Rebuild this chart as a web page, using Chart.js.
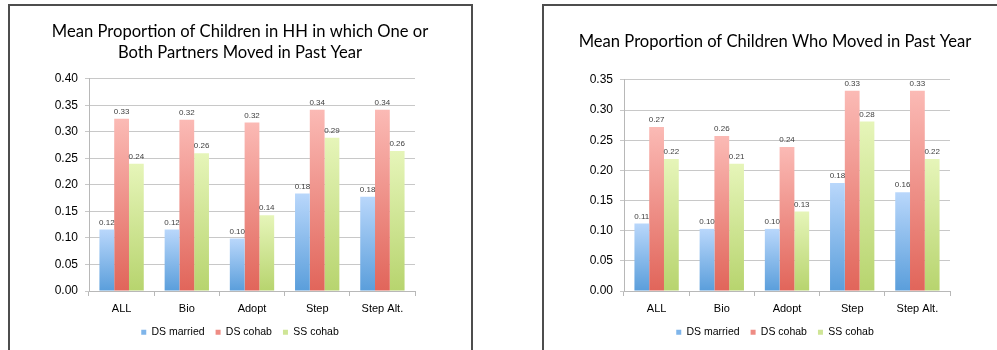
<!DOCTYPE html>
<html><head><meta charset="utf-8">
<script src="https://cdn.jsdelivr.net/npm/chart.js@4"></script>
<style>
html,body{margin:0;padding:0;background:#fff;overflow:hidden;width:997px;height:350px;}
.frame{position:absolute;top:4px;height:400px;border:2px solid #4d4d4d;box-sizing:border-box;}
canvas{position:absolute;}
</style></head><body>
<div class="frame" style="left:8px;width:465px;"></div>
<div class="frame" style="left:542px;width:520px;"></div>
<canvas id="c1" width="460" height="344" style="left:10px;top:6px;width:460px;height:344px;"></canvas>
<canvas id="c2" width="460" height="344" style="left:545px;top:6px;width:460px;height:344px;"></canvas>
<script>
const categories = ['ALL', 'Bio', 'Adopt', 'Step', 'Step Alt.'];
const seriesNames = ['DS married', 'DS cohab', 'SS cohab'];

const title1 = ['Mean Proportion of Children in HH in which One or', 'Both Partners Moved in Past Year'];
const hhDSmarried = [0.116, 0.116, 0.099, 0.184, 0.178];
const hhDScohab   = [0.325, 0.323, 0.318, 0.342, 0.342];
const hhSScohab   = [0.240, 0.260, 0.143, 0.289, 0.264];
const yMax1 = 0.40;

const title2 = 'Mean Proportion of Children Who Moved in Past Year';
const chDSmarried = [0.112, 0.103, 0.103, 0.179, 0.164];
const chDScohab   = [0.272, 0.257, 0.239, 0.332, 0.332];
const chSScohab   = [0.219, 0.211, 0.132, 0.281, 0.219];
const yMax2 = 0.35;

const yStep = 0.05;

const palette = [
  {top:'#b9d7fb', bottom:'#5a9edb', mid:'#7fb5ea'},
  {top:'#fbbab5', bottom:'#e1655a', mid:'#ee8c84'},
  {top:'#e6f5b9', bottom:'#b7d46e', mid:'#cfe596'}
];

function gradFill(p) {
  return (ctx) => {
    const chart = ctx.chart;
    if (ctx.type !== 'data' || !chart.chartArea || !chart.scales.y) return p.mid;
    const ys = chart.scales.y;
    const v = ctx.raw;
    const y0 = ys.getPixelForValue(v), y1 = ys.getPixelForValue(0);
    if (!isFinite(y0) || !isFinite(y1) || y0 === y1) return p.mid;
    const g = chart.ctx.createLinearGradient(0, y0, 0, y1);
    g.addColorStop(0, p.top);
    g.addColorStop(1, p.bottom);
    return g;
  };
}

const valueLabels = {
  id: 'valueLabels',
  afterDatasetsDraw(chart) {
    const ctx = chart.ctx;
    ctx.save();
    ctx.font = '8px "Liberation Sans", Arial, sans-serif';
    ctx.fillStyle = '#404040';
    ctx.textAlign = 'center';
    ctx.textBaseline = 'bottom';
    chart.data.datasets.forEach((ds, i) => {
      const meta = chart.getDatasetMeta(i);
      meta.data.forEach((el, j) => {
        ctx.fillText(ds.data[j].toFixed(2), el.x, el.y - 3);
      });
    });
    ctx.restore();
  }
};

function makeChart(id, title, titleSize, titleLH, titlePad, series, yMax) {
  const datasets = series.map((d, i) => ({
    label: seriesNames[i],
    data: d,
    backgroundColor: gradFill(palette[i]),
    borderWidth: 0,
    barPercentage: 1.0,
    categoryPercentage: 0.68
  }));
  return new Chart(document.getElementById(id), {
    type: 'bar',
    data: {labels: categories, datasets},
    plugins: [valueLabels],
    options: {
      responsive: false,
      animation: false,
      devicePixelRatio: 1,
      layout: {padding: {left: 0, right: 0, top: 0, bottom: 2.5}},
      plugins: {
        title: {
          display: true,
          text: title,
          color: '#000',
          font: {family: 'Lato, "Liberation Sans", sans-serif', size: titleSize, weight: 'normal', lineHeight: titleLH},
          padding: titlePad
        },
        legend: {
          position: 'bottom',
          labels: {
            boxWidth: 5, boxHeight: 5, padding: 11,
            color: '#000',
            font: {family: '"Liberation Sans", Arial, sans-serif', size: 10.5},
            generateLabels: (chart) => chart.data.datasets.map((ds, i) => ({
              text: ds.label, fillStyle: palette[i].mid, strokeStyle: palette[i].mid,
              lineWidth: 0, hidden: false, datasetIndex: i
            }))
          }
        },
        tooltip: {enabled: false}
      },
      scales: {
        x: {
          grid: {display: true, drawOnChartArea: false, drawTicks: true, tickLength: 5, offset: true, color: '#b8b8b8'},
          border: {display: true, color: '#b8b8b8'},
          ticks: {color: '#000', padding: 6, font: {family: '"Liberation Sans", Arial, sans-serif', size: 11}},
          afterFit: (s) => { s.height = 25; }
        },
        y: {
          min: 0, max: yMax,
          grid: {color: '#c8c8c8', tickLength: 4, drawTicks: true},
          border: {display: true, color: '#b8b8b8'},
          ticks: {
            stepSize: yStep, color: '#000', padding: 7,
            font: {family: '"Liberation Sans", Arial, sans-serif', size: 12},
            callback: (v) => Number(v).toFixed(2)
          },
          afterFit: (s) => { s.width = 79; }
        },
        yPad: {
          position: 'right',
          display: true,
          min: 0, max: yMax,
          grid: {display: false, drawTicks: false},
          border: {display: false},
          ticks: {display: false},
          afterFit: (s) => { s.width = 55; }
        }
      }
    }
  });
}

makeChart('c1', title1, 16.6, 1.265, {top: 15.5, bottom: 15.5}, [hhDSmarried, hhDScohab, hhSScohab], yMax1);
makeChart('c2', title2, 16.6, 1.265, {top: 25.5, bottom: 27.5}, [chDSmarried, chDScohab, chSScohab], yMax2);
</script>
</body></html>
